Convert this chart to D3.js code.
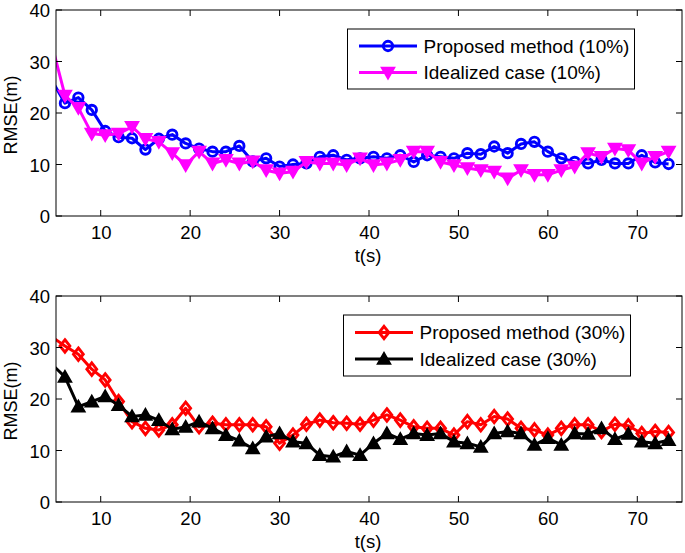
<!DOCTYPE html>
<html>
<head>
<meta charset="utf-8">
<script src="https://cdn.jsdelivr.net/npm/d3@7"></script>
<style>
  html, body { margin: 0; padding: 0; background: #fff; }
  svg { display: block; font-family: "Liberation Sans", Arial, Helvetica, sans-serif; }
</style>
</head>
<body>
<svg id="chart" width="685" height="553"></svg>
<script>
// ---------- data ----------
const timeS = [4.5, 6, 7.5, 9, 10.5, 12, 13.5, 15, 16.5, 18, 19.5, 21, 22.5, 24, 25.5, 27, 28.5, 30, 31.5, 33,
  34.5, 36, 37.5, 39, 40.5, 42, 43.5, 45, 46.5, 48, 49.5, 51, 52.5, 54, 55.5, 57, 58.5, 60, 61.5, 63,
  64.5, 66, 67.5, 69, 70.5, 72, 73.5];

const proposed10 = [26.5, 21.9, 23.0, 20.6, 16.5, 15.3, 15.1, 12.9, 15.0, 15.8, 14.1, 13.1, 12.5, 12.5, 13.6, 10.6,
  11.2, 9.6, 10.0, 10.2, 11.5, 11.8, 10.9, 11.2, 11.5, 11.2, 11.8, 10.5, 11.8, 11.5, 11.2, 12.2, 12.0, 13.5,
  12.2, 14.0, 14.4, 12.5, 11.2, 10.5, 10.2, 10.9, 10.2, 10.2, 11.8, 10.4, 10.1];

const idealized10 = [33.5, 23.4, 21.0, 16.0, 15.7, 16.0, 17.3, 15.0, 14.4, 12.2, 9.9, 12.5, 10.2, 10.9, 10.2, 10.6,
  8.9, 8.3, 8.6, 10.5, 10.2, 10.2, 9.9, 11.2, 9.9, 10.2, 10.9, 12.5, 12.5, 10.5, 9.9, 9.3, 8.9, 8.6,
  7.3, 8.9, 8.0, 8.0, 8.9, 9.6, 12.2, 11.5, 13.1, 12.8, 10.2, 11.5, 12.5];

const proposed30 = [32.1, 30.3, 28.7, 25.8, 23.7, 19.5, 15.6, 14.3, 14.0, 15.0, 18.2, 14.6, 15.3, 15.0, 15.0, 15.0,
  14.6, 11.4, 13.0, 15.1, 15.9, 15.4, 15.3, 15.1, 15.9, 16.9, 15.9, 14.6, 14.3, 14.3, 13.0, 15.6, 15.0, 16.6,
  16.1, 14.3, 14.0, 13.0, 14.3, 15.0, 15.0, 13.7, 15.1, 14.8, 13.3, 13.7, 13.5];

const idealized30 = [26.8, 24.3, 18.5, 19.5, 20.5, 18.8, 16.6, 16.9, 15.9, 14.1, 14.6, 15.6, 14.3, 13.0, 11.9, 10.4,
  12.7, 13.3, 11.7, 11.4, 9.1, 8.8, 9.8, 9.1, 11.4, 13.3, 12.2, 13.3, 13.0, 13.3, 11.7, 11.4, 10.7, 13.3,
  13.7, 13.3, 11.1, 12.4, 11.1, 13.3, 13.2, 14.3, 12.2, 13.2, 11.7, 11.4, 12.0];

const xTicks = [10, 20, 30, 40, 50, 60, 70];
const yTicks = [0, 10, 20, 30, 40];
const xDomain = [5, 75];
const yDomain = [0, 40];
const xLabel = "t(s)";
const yLabel = "RMSE(m)";
const legendTop = ["Proposed method (10%)", "Idealized case (10%)"];
const legendBottom = ["Proposed method (30%)", "Idealized case (30%)"];

// ---------- drawing ----------
const svg = d3.select("#chart");
const FONT = 18.5;

const markerPaths = {
  circle: () => { const p = d3.path(); p.arc(0, 0, 4.7, 0, 2 * Math.PI); return p.toString(); },
  triDown: () => "M-5.4,-4.4L5.4,-4.4L0,5Z",
  triUp: () => "M-5.4,4.4L5.4,4.4L0,-5Z",
  diamond: () => "M0,-6.2L4.9,0L0,6.2L-4.9,0Z"
};

function drawMarker(g, type, color) {
  const filled = (type === "triDown" || type === "triUp");
  return g.append("path")
    .attr("d", markerPaths[type]())
    .attr("fill", filled ? color : "none")
    .attr("stroke", color)
    .attr("stroke-width", 2.9)
    .attr("stroke-linejoin", "miter");
}

function panel(opts) {
  const { left, top, width, height, series, legend, id } = opts;
  const x = d3.scaleLinear().domain(xDomain).range([left, left + width]);
  const y = d3.scaleLinear().domain(yDomain).range([top + height, top]);
  const g = svg.append("g");

  g.append("clipPath").attr("id", id)
    .append("rect").attr("x", left).attr("y", top).attr("width", width).attr("height", height);

  const plot = g.append("g").attr("clip-path", `url(#${id})`);
  const line = d3.line().x((d, i) => x(timeS[i])).y(d => y(d));

  series.forEach(s => {
    plot.append("path").datum(s.values)
      .attr("d", line)
      .attr("fill", "none")
      .attr("stroke", s.color)
      .attr("stroke-width", 3)
      .attr("stroke-linejoin", "round");
    s.values.forEach((v, i) => {
      if (timeS[i] < xDomain[0] || timeS[i] > xDomain[1]) return;
      drawMarker(plot, s.marker, s.color)
        .attr("transform", `translate(${x(timeS[i])},${y(v)})`);
    });
  });

  // axes box
  g.append("rect").attr("x", left).attr("y", top).attr("width", width).attr("height", height)
    .attr("fill", "none").attr("stroke", "#000").attr("stroke-width", 1);

  const tl = 6;
  // bottom axis
  const ax = d3.axisBottom(x).tickValues(xTicks).tickSize(0).tickPadding(0).tickFormat(d3.format("d"));
  const gx = g.append("g").attr("transform", `translate(0,${top + height})`).call(ax);
  gx.select(".domain").remove();
  gx.selectAll("text").attr("font-size", FONT).attr("fill", "#000")
    .attr("font-family", "Liberation Sans, Arial, sans-serif")
    .attr("dy", null).attr("y", 23);
  // left axis
  const ay = d3.axisLeft(y).tickValues(yTicks).tickSize(0).tickPadding(0).tickFormat(d3.format("d"));
  const gy = g.append("g").attr("transform", `translate(${left},0)`).call(ay);
  gy.select(".domain").remove();
  gy.selectAll("text").attr("font-size", FONT).attr("fill", "#000")
    .attr("font-family", "Liberation Sans, Arial, sans-serif")
    .attr("x", -6).attr("dy", "0.36em");

  // inward ticks on all sides
  xTicks.forEach(t => {
    g.append("line").attr("x1", x(t)).attr("x2", x(t)).attr("y1", top + height).attr("y2", top + height - tl)
      .attr("stroke", "#000");
    g.append("line").attr("x1", x(t)).attr("x2", x(t)).attr("y1", top).attr("y2", top + tl)
      .attr("stroke", "#000");
  });
  yTicks.forEach(t => {
    g.append("line").attr("x1", left).attr("x2", left + tl).attr("y1", y(t)).attr("y2", y(t))
      .attr("stroke", "#000");
    g.append("line").attr("x1", left + width).attr("x2", left + width - tl).attr("y1", y(t)).attr("y2", y(t))
      .attr("stroke", "#000");
  });

  // axis labels
  g.append("text").text(xLabel)
    .attr("x", left + width / 2 - 1).attr("y", top + height + 46)
    .attr("text-anchor", "middle").attr("font-size", FONT).attr("fill", "#000");
  g.append("text").text(yLabel)
    .attr("transform", `translate(16.5,${top + height / 2 + 2}) rotate(-90)`)
    .attr("text-anchor", "middle").attr("font-size", 18).attr("fill", "#000");

  // legend
  const L = legend;
  g.append("rect").attr("x", L.x).attr("y", L.y).attr("width", L.w).attr("height", L.h)
    .attr("fill", "#fff").attr("stroke", "#000").attr("stroke-width", 1);
  series.forEach((s, i) => {
    const ry = L.rows[i];
    g.append("line").attr("x1", L.lx1).attr("x2", L.lx2).attr("y1", ry).attr("y2", ry)
      .attr("stroke", s.color).attr("stroke-width", 3);
    drawMarker(g, s.marker, s.color).attr("transform", `translate(${(L.lx1 + L.lx2) / 2},${ry})`);
    g.append("text").text(L.labels[i])
      .attr("x", L.tx).attr("y", ry).attr("dy", "0.35em")
      .attr("font-size", 19).attr("fill", "#000");
  });
}

panel({
  id: "clipTop", left: 56, top: 10, width: 626, height: 206,
  series: [
    { values: proposed10, color: "#0000ff", marker: "circle" },
    { values: idealized10, color: "#ff00ff", marker: "triDown" }
  ],
  legend: { x: 347.5, y: 29, w: 287, h: 60, rows: [46, 72.5], lx1: 359, lx2: 417, tx: 423.5, labels: legendTop }
});

panel({
  id: "clipBottom", left: 56, top: 296, width: 626, height: 206,
  series: [
    { values: proposed30, color: "#ff0000", marker: "diamond" },
    { values: idealized30, color: "#000000", marker: "triUp" }
  ],
  legend: { x: 343.5, y: 315, w: 287, h: 61, rows: [332.5, 359], lx1: 355, lx2: 413, tx: 419.5, labels: legendBottom }
});
</script>
</body>
</html>
